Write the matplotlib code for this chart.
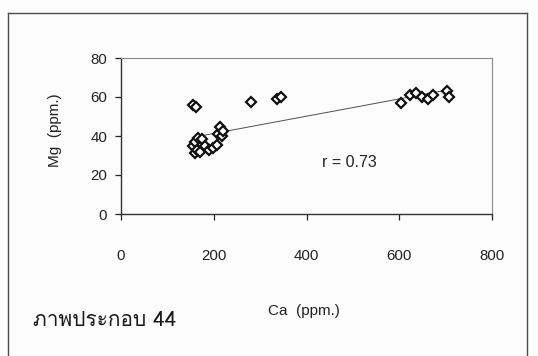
import matplotlib
matplotlib.use("Agg")
import matplotlib.pyplot as plt
from matplotlib import font_manager
from matplotlib.ft2font import FT2Font
from matplotlib.lines import Line2D
import numpy as np

# Calcium / magnesium concentrations (ppm)
ca = [155, 162,
      156, 160, 160, 163, 167, 170.5, 175.5, 181, 190, 199, 206.5,
      210, 214, 217, 221,
      280, 336, 344,
      604, 623, 636, 649, 661, 672, 702, 708]
mg = [56, 55,
      34.7, 31.3, 37, 33, 39, 32, 38.6, 34.7, 33, 33.8, 35.5,
      41, 44.5, 39.8, 42.4,
      57.4, 59.1, 60.2,
      57.1, 61.2, 62, 60, 58.8, 60.9, 63.2, 59.8]
r_text = "r = 0.73"
x_ticks = [0, 200, 400, 600, 800]
y_ticks = [0, 20, 40, 60, 80]
x_label = "Ca  (ppm.)"
y_label = "Mg  (ppm.)"
caption = "ภาพประกอบ 44"


def thai_family():
    """Return an installed family that has Thai glyphs, if any."""
    preferred = []
    others = []
    for f in font_manager.fontManager.ttflist:
        try:
            cmap = FT2Font(f.fname).get_charmap()
        except Exception:
            continue
        if 0x0E20 in cmap and 0x0E1E in cmap:
            if "Thai" in f.name or "Loma" in f.name or "Garuda" in f.name:
                preferred.append(f.name)
            else:
                others.append(f.name)
    for lst in (preferred, others):
        if lst:
            return lst[0]
    return "DejaVu Sans"


base = "Liberation Sans"
plt.rcParams["font.family"] = [base, "DejaVu Sans"]

fig = plt.figure(figsize=(5.38, 3.56), dpi=100)
fig.patch.set_facecolor("#fcfcfc")

ax = fig.add_axes([121 / 538, 1 - 214 / 356, 371 / 538, 156 / 356])
ax.set_facecolor("none")

x = np.array(ca, dtype=float)
y = np.array(mg, dtype=float)

# least-squares trend line across the data range
slope, intercept = np.polyfit(x, y, 1)
xs = np.array([x.min(), x.max()])
ax.plot(xs, slope * xs + intercept, color="#505050", lw=0.7, zorder=2)

ax.plot(x, y, linestyle="none", marker="D", markersize=5.0,
        markerfacecolor="white", markeredgecolor="#111111",
        markeredgewidth=1.6, zorder=3)

ax.set_xlim(0, 800)
ax.set_ylim(0, 80)
ax.set_xticks(x_ticks)
ax.set_yticks(y_ticks)
ax.tick_params(axis="x", direction="out", length=4, width=0.9,
               pad=21, labelsize=10.8, colors="#222222")
ax.tick_params(axis="y", direction="out", length=4, width=0.9,
               pad=6, labelsize=10.8, colors="#222222")

for side in ("left", "bottom"):
    ax.spines[side].set_color("#333333")
    ax.spines[side].set_linewidth(1.0)
for side in ("top", "right"):
    ax.spines[side].set_color("#8a8a8a")
    ax.spines[side].set_linewidth(0.8)

ax.text(492, 26.2, r_text, fontsize=11.5, color="#222222",
        ha="center", va="center")

fig.text(55 / 538, 1 - 130 / 356, y_label, rotation=90, fontsize=11,
         ha="center", va="center", color="#222222")
fig.text(304 / 538, 1 - 311 / 356, x_label, fontsize=11,
         ha="center", va="center", color="#222222")

fig.text(33 / 538, 1 - 321 / 356, caption, fontsize=15,
         family=[thai_family(), "DejaVu Sans"],
         ha="left", va="center", color="#1a1a1a")

# outer frame around the figure panel (open at the bottom)
frame_color = "#4d4d4d"
W, H = 538, 356
for (x0, y0, x1, y1) in [(8, 13, 527, 13), (8, 13, 8, 360), (527, 13, 527, 360)]:
    fig.add_artist(Line2D([x0 / W, x1 / W], [1 - y0 / H, 1 - y1 / H],
                          transform=fig.transFigure, color=frame_color,
                          lw=1.0))

fig.savefig("out.png", dpi=100, facecolor=fig.get_facecolor())
